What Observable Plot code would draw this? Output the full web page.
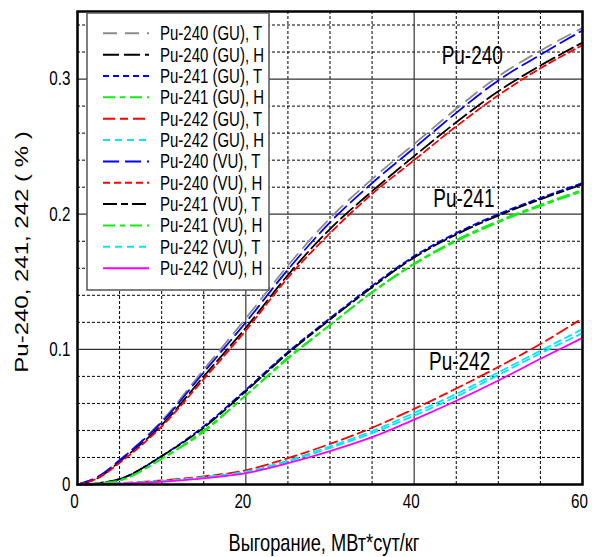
<!DOCTYPE html>
<html><head><meta charset="utf-8">
<script src="https://cdn.jsdelivr.net/npm/d3@7"></script>
<script src="https://cdn.jsdelivr.net/npm/@observablehq/plot@0.6"></script>
<style>
body{margin:0;background:#fff;}
svg{display:block;}
</style>
</head><body><div id="chart"></div>
<script>
// Burnup, MWd/kg
const burnup = [0, 2.5, 5, 10, 15, 20, 25, 30, 35, 40, 45, 50, 55, 60];

// Pu-240 (%)
const pu240_GU_T = [0, 0.006, 0.018, 0.047, 0.085, 0.123, 0.162, 0.197, 0.226, 0.252, 0.278, 0.302, 0.321, 0.338];
const pu240_GU_H = [0, 0.005, 0.017, 0.044, 0.080, 0.116, 0.155, 0.189, 0.217, 0.243, 0.268, 0.291, 0.310, 0.327];
const pu240_VU_T = [0, 0.006, 0.018, 0.046, 0.083, 0.120, 0.159, 0.194, 0.223, 0.249, 0.275, 0.299, 0.318, 0.336];
const pu240_VU_H = [0, 0.005, 0.016, 0.043, 0.078, 0.114, 0.153, 0.186, 0.215, 0.240, 0.265, 0.288, 0.308, 0.325];
// Pu-241 (%)
const pu241_GU_T = [0, 0.001, 0.004, 0.021, 0.043, 0.070, 0.098, 0.123, 0.147, 0.169, 0.186, 0.200, 0.212, 0.223];
const pu241_GU_H = [0, 0.001, 0.003, 0.019, 0.039, 0.066, 0.093, 0.118, 0.142, 0.163, 0.180, 0.194, 0.206, 0.217];
const pu241_VU_T = [0, 0.001, 0.004, 0.021, 0.042, 0.069, 0.097, 0.122, 0.146, 0.168, 0.185, 0.199, 0.211, 0.222];
const pu241_VU_H = [0, 0.001, 0.003, 0.019, 0.040, 0.066, 0.094, 0.118, 0.1425, 0.1635, 0.181, 0.195, 0.207, 0.218];
// Pu-242 (%)
const pu242_GU_T = [0, 0.0003, 0.001, 0.003, 0.006, 0.0105, 0.0195, 0.030, 0.042, 0.056, 0.071, 0.087, 0.104, 0.123];
const pu242_GU_H = [0, 0.0002, 0.0008, 0.0025, 0.0055, 0.0095, 0.0178, 0.0282, 0.0395, 0.053, 0.067, 0.083, 0.099, 0.115];
const pu242_VU_T = [0, 0.0002, 0.0008, 0.0025, 0.005, 0.009, 0.017, 0.027, 0.038, 0.051, 0.065, 0.081, 0.097, 0.112];
const pu242_VU_H = [0, 0.0002, 0.0007, 0.002, 0.0045, 0.0084, 0.0158, 0.0247, 0.035, 0.048, 0.062, 0.077, 0.093, 0.1085];

const seriesNames = [
  "Pu-240 (GU), T", "Pu-240 (GU), H", "Pu-241 (GU), T", "Pu-241 (GU), H",
  "Pu-242 (GU), T", "Pu-242 (GU), H", "Pu-240 (VU), T", "Pu-240 (VU), H",
  "Pu-241 (VU), T", "Pu-241 (VU), H", "Pu-242 (VU), T", "Pu-242 (VU), H"
];
const seriesValues = [
  pu240_GU_T, pu240_GU_H, pu241_GU_T, pu241_GU_H,
  pu242_GU_T, pu242_GU_H, pu240_VU_T, pu240_VU_H,
  pu241_VU_T, pu241_VU_H, pu242_VU_T, pu242_VU_H
];
const seriesColors = [
  "#8c8c8c", "#000000", "#0000ff", "#11ee11",
  "#ff0000", "#00e8ff", "#0000ff", "#ff0000",
  "#000000", "#11ee11", "#00e8ff", "#ff00ff"
];
const seriesDashes = [
  "14,8", "16,5", "6,4", "12,5,5,5",
  "12,5,8,5", "7,5", "16,6", "7,4",
  "14,4,7,4", "12,5,5,5", "7,5", "none"
];

const xTicks = [0, 20, 40, 60];
const yTicks = [0, 0.1, 0.2, 0.3];
const xMinor = [5, 10, 15, 25, 30, 35, 45, 50, 55];
const yMinor = [0.02, 0.04, 0.06, 0.08, 0.12, 0.14, 0.16, 0.18, 0.22, 0.24, 0.26, 0.28, 0.32, 0.34];

const annotationLabels = ["Pu-240", "Pu-241", "Pu-242"];
const annotationX = [46.9, 45.9, 45.4];
const annotationY = [0.317, 0.211, 0.091];

const xLabel = "Выгорание, МВт*сут/кг";
const yLabel = "Pu-240, 241, 242 ( % )";

const FONT = "'Liberation Sans', Arial, sans-serif";

const lineMarks = seriesValues.map((vals, k) =>
  Plot.line(burnup.map((x, i) => ({x, y: vals[i]})), {
    x: "x", y: "y", stroke: seriesColors[k], strokeWidth: 1.8,
    strokeDasharray: seriesDashes[k], curve: "monotone-x"
  })
);

const annotations = annotationLabels.map((t, i) => ({t, x: annotationX[i], y: annotationY[i]}));

const chart = Plot.plot({
  width: 592, height: 557,
  marginLeft: 77, marginRight: 10, marginTop: 11, marginBottom: 73,
  style: {fontFamily: FONT, background: "#fff", color: "#000"},
  x: {domain: [0, 60]},
  y: {domain: [0, 0.35]},
  marks: [
    Plot.ruleX(xMinor, {stroke: "#000", strokeWidth: 1, strokeDasharray: "3,2"}),
    Plot.ruleY(yMinor, {stroke: "#000", strokeWidth: 1, strokeDasharray: "3,2"}),
    Plot.ruleX(xTicks, {stroke: "#333", strokeWidth: 1.2}),
    Plot.ruleY(yTicks, {stroke: "#333", strokeWidth: 1.2}),
    ...lineMarks,
    Plot.text(annotations, {x: "x", y: "y", text: "t", fontSize: 25, fill: "#000"}),
    Plot.frame({stroke: "#000", strokeWidth: 2.5}),
    Plot.axisX(xTicks, {tickSize: 0, tickPadding: 9, fontSize: 20, label: null, dx: -3, tickFormat: d => String(d)}),
    Plot.axisY(yTicks, {tickSize: 0, tickPadding: 7, fontSize: 20, label: null, tickFormat: d => d === 0 ? "0" : String(d)}),
    Plot.text([xLabel], {frameAnchor: "bottom", textAnchor: "middle", lineAnchor: "middle", dy: 59, dx: -6, fontSize: 24, fill: "#000"}),
    Plot.text([yLabel], {frameAnchor: "left", textAnchor: "middle", lineAnchor: "middle", rotate: -90, dx: -55, dy: 4, fontSize: 24, fill: "#000"})
  ]
});

// Legend box (drawn over the curves, as in the reference)
const svg = d3.select(chart);
const lg = svg.append("g").attr("font-family", FONT).attr("text-anchor", "start");
lg.append("rect").attr("x", 87).attr("y", 13).attr("width", 182).attr("height", 277)
  .attr("fill", "#fff").attr("stroke", "#555").attr("stroke-width", 1.5);
seriesNames.forEach((name, i) => {
  const cy = 33.3 + i * 21.35;
  lg.append("line").attr("x1", 103).attr("x2", 149).attr("y1", cy).attr("y2", cy)
    .attr("stroke", seriesColors[i]).attr("stroke-width", 2)
    .attr("stroke-dasharray", seriesDashes[i]);
  lg.append("text").attr("data-own", "1")
    .attr("text-anchor", "start")
    .attr("transform", `translate(160,${cy + 7}) scale(0.75,1)`)
    .attr("font-size", 20).attr("fill", "#000").text(name);
});

// Condensed lettering as in the reference
svg.selectAll("text").each(function () {
  if (this.getAttribute("data-own")) return;
  const t = this.getAttribute("transform");
  const rotated = t && t.includes("rotate");
  const s = rotated ? " scale(1,0.76)" : " scale(0.76,1)";
  if (t) this.setAttribute("transform", t + s);
  else {
    const x = parseFloat(this.getAttribute("x") || "0");
    const yAttr = this.getAttribute("y") || "0";
    if (!/em/.test(yAttr)) {
      this.setAttribute("transform", `translate(${x},${parseFloat(yAttr)})${s}`);
      this.setAttribute("x", 0); this.setAttribute("y", 0);
    } else {
      this.setAttribute("transform", `translate(${x},0)${s}`);
      this.setAttribute("x", 0);
    }
  }
});

document.getElementById("chart").appendChild(chart);
</script>
</body></html>
